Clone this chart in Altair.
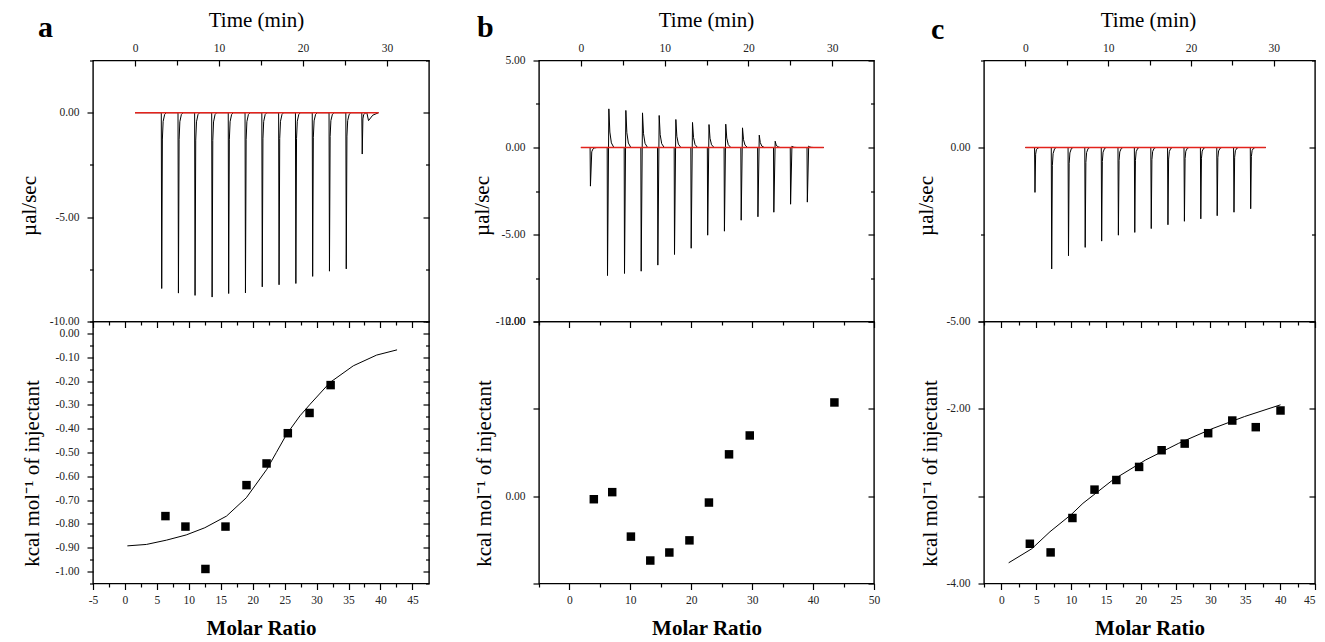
import altair as alt
import pandas as pd

FONT = "Liberation Serif"
RED = "#e3231c"

# ---------------- raw thermograms (top panels) ----------------
# panel a : injection times (min) and peak heights (ucal/sec)
inj_a_t = [3.13, 5.12, 7.10, 9.13, 11.10, 13.10, 15.10, 17.10, 19.10, 21.10, 23.10, 25.10, 27.00]
inj_a_peak = [-8.42, -8.64, -8.75, -8.83, -8.66, -8.63, -8.34, -8.24, -8.18, -7.84, -7.59, -7.48, -1.98]
tail_a_t = [27.8, 28.3]
tail_a_v = [-0.38, -0.12]

# panel b : negative and positive excursions of each injection
inj_b_t = [1.10, 3.14, 5.17, 7.16, 9.15, 11.14, 13.13, 15.10, 17.10, 19.10, 21.10, 23.00, 25.00, 27.00]
neg_b = [-2.22, -7.36, -7.24, -7.11, -6.76, -6.15, -5.79, -5.04, -4.81, -4.18, -3.98, -3.72, -3.26, -3.14]
pos_b = [-0.25, 2.22, 2.13, 1.99, 1.84, 1.61, 1.44, 1.32, 1.34, 1.13, 0.71, 0.36, 0.08, 0.08]

# panel c
inj_c_t = [1.11, 3.13, 5.16, 7.18, 9.17, 11.19, 13.17, 15.16, 17.18, 19.17, 21.15, 23.13, 25.16, 27.18]
inj_c_peak = [-1.29, -3.49, -3.11, -2.87, -2.69, -2.52, -2.44, -2.33, -2.22, -2.12, -2.05, -1.96, -1.86, -1.76]

run_end = [29.0, 29.0, 29.05]

# ---------------- integrated heats (bottom panels) ----------------
mr_a = [6.34, 9.47, 12.6, 15.74, 19.03, 22.17, 25.5, 28.9, 32.2]
dh_a = [-0.767, -0.811, -0.989, -0.811, -0.637, -0.546, -0.419, -0.334, -0.217]
fit_a_x = [0.38, 3.36, 6.5, 9.6, 12.5, 15.9, 19.0, 22.2, 23.7, 25.3, 27.4, 29.0, 32.1, 35.75, 39.4, 42.6]
fit_a_y = [-0.892, -0.886, -0.868, -0.846, -0.816, -0.767, -0.69, -0.571, -0.50, -0.424,
           -0.346, -0.297, -0.206, -0.136, -0.091, -0.069]

mr_b = [4.0, 7.02, 10.09, 13.27, 16.4, 19.7, 22.9, 26.2, 29.6, 43.5]
dh_b = [-0.035, 0.046, -0.463, -0.737, -0.645, -0.506, -0.073, 0.479, 0.695, 1.073]

mr_c = [4.08, 7.06, 10.19, 13.36, 16.49, 19.76, 22.99, 26.3, 29.67, 33.13, 36.5, 40.05]
dh_c = [-3.545, -3.644, -3.25, -2.925, -2.815, -2.665, -2.474, -2.398, -2.279, -2.134, -2.21, -2.019]
fit_c_x = [1.04, 4.36, 6.97, 10.05, 11.7, 15.97, 20.7, 25.45, 30.19, 34.9, 40.05]
fit_c_y = [-3.763, -3.602, -3.407, -3.208, -3.082, -2.815, -2.585, -2.394, -2.229, -2.088, -1.954]

# spike profile (time offset, fraction of the peak) used to draw each injection
SPIKE_DOWN = [(0.0, 0.0), (0.05, 1.0), (0.13, 0.15), (0.22, 0.05), (0.4, 0.01), (0.6, 0.0)]


def trace_down(times, peaks, end, tail_t=(), tail_v=()):
    rows = [(0.0, 0.0)]
    for t, p in zip(times, peaks):
        for dt, f in SPIKE_DOWN:
            rows.append((t + dt, p * f))
    for t, v in zip(tail_t, tail_v):
        rows.append((t, v))
    rows.append((end, 0.0))
    return pd.DataFrame({"t": [r[0] for r in rows], "v": [r[1] for r in rows], "i": range(len(rows))})


def trace_bi(times, negs, poss, end):
    rows = [(0.0, 0.0)]
    for t, n, p in zip(times, negs, poss):
        rows += [(t, 0.0), (t + 0.04, n), (t + 0.2, p), (t + 0.32, 0.4 * p),
                 (t + 0.5, 0.12 * p), (t + 0.8, 0.0)]
    rows.append((end, 0.0))
    return pd.DataFrame({"t": [r[0] for r in rows], "v": [r[1] for r in rows], "i": range(len(rows))})


def baseline(end):
    return pd.DataFrame({"t": [0.0, end], "v": [0.0, 0.0]})


MINUS = "\u2212"


def fmt_expr(test, f):
    return f"({test}) ? replace(format(datum.value, '{f}'), '{MINUS}', '-') : ''"


BASE_AX = dict(domain=False, grid=False, tickColor="black", tickWidth=1.2,
               labelFont=FONT, labelFontSize=11.5, labelColor="#222",
               titleFont=FONT, titleFontSize=21, titleColor="black",
               labelOverlap=False, labelBound=False)


def tsize(test, maj, mn, inward=False):
    s = -1 if inward else 1
    if test is None:
        return {"expr": str(s * maj)} if inward else maj
    return {"condition": {"test": test, "value": s * maj}, "value": s * mn}


def left_axis(values, label_test, size_test, title, tx, ty):
    return alt.Axis(orient="left", values=values, labelExpr=fmt_expr(label_test, ".2f"),
                    tickSize=tsize(size_test, 6, 3.5), labelPadding=8, labelFlush=False,
                    title=title, titleX=tx, titleY=ty, titleBaseline="alphabetic",
                    titleAngle=270, titleAlign="center", titleFontWeight="normal", **BASE_AX)


def right_axis(values, size_test):
    return alt.Axis(orient="right", values=values, labels=False, title=None, labelFlush=False,
                    tickSize=tsize(size_test, 6, 3.5, inward=True), **BASE_AX)


def time_axis(tx):
    return alt.Axis(orient="top", values=[0, 5, 10, 15, 20, 25, 30],
                    labelExpr=fmt_expr("datum.value % 10 === 0", "d"),
                    tickSize=tsize("datum.value % 10 === 0", 5.5, 4.5, inward=True),
                    labelPadding=15, labelBaseline="alphabetic", labelFlush=False,
                    title="Time (min)", titleX=tx, titleY=-34, titleBaseline="alphabetic",
                    titleFontWeight="normal", **BASE_AX)


def bottom_axis(values, label_test, size_test, flush):
    return alt.Axis(orient="bottom", values=values, labelExpr=fmt_expr(label_test, "d"),
                    tickSize=tsize(size_test, 6, 3.5), labelPadding=14, labelBaseline="alphabetic",
                    labelFlush=flush,
                    title="Molar Ratio", titleY=51, titleBaseline="alphabetic",
                    titleFontWeight="bold", **BASE_AX)


def top_mirror(values, size_test):
    return alt.Axis(orient="top", values=values, labels=False, title=None, labelFlush=False,
                    tickSize=tsize(size_test, 6, 3.5, inward=True), **BASE_AX)


H1, H2 = 261, 262
SPACING = 110
WIDTHS = [336, 335, 331]


def steps(a, b, s):
    n = int(round((b - a) / s))
    return [round(a + k * s, 4) for k in range(n + 1)]


def top_panel(trace, base, W, ydom, yvals, ytest, letter, ldx, ldy, ytx, ttx):
    xs = alt.Scale(domain=[-5, 35], nice=False, zero=False)
    ys = alt.Scale(domain=ydom, nice=False, zero=False)
    line = alt.Chart(trace).mark_line(color="black", strokeWidth=1, clip=True).encode(
        x=alt.X("t:Q", scale=xs, axis=time_axis(ttx)),
        y=alt.Y("v:Q", scale=ys, axis=left_axis(yvals, "datum.value % 5 === 0", ytest,
                                                "\u00b5al/sec", ytx, 145)),
        order="i:Q")
    red = alt.Chart(base).mark_line(color=RED, strokeWidth=1.6).encode(
        x=alt.X("t:Q", scale=xs, axis=None),
        y=alt.Y("v:Q", scale=ys, axis=right_axis(yvals, ytest)))
    lab = alt.Chart(pd.DataFrame({"lab": [letter]})).mark_text(
        font=FONT, fontSize=30, fontWeight="bold", align="left", baseline="alphabetic",
        color="black").encode(x=alt.value(ldx), y=alt.value(ldy), text="lab:N")
    return alt.layer(line, red, lab).resolve_axis(x="independent", y="independent").properties(
        width=W, height=H1)


def bottom_panel(df, fit, W, xdom, xvals, xlab_test, xsize_test, ydom, yvals, ylab_test, ysize_test,
                 ytx, flush=False):
    xs = alt.Scale(domain=xdom, nice=False, zero=False)
    ys = alt.Scale(domain=ydom, nice=False, zero=False)
    title = "kcal mol\u207b\u00b9 of injectant"
    pts = alt.Chart(df).mark_square(size=72, color="black", opacity=1).encode(
        x=alt.X("mr:Q", scale=xs, axis=bottom_axis(xvals, xlab_test, xsize_test, flush)),
        y=alt.Y("dh:Q", scale=ys, axis=left_axis(yvals, ylab_test, ysize_test, title, ytx, 151.5)))
    mirror = alt.Chart(df).mark_square(size=72, opacity=0).encode(
        x=alt.X("mr:Q", scale=xs, axis=top_mirror(xvals, xsize_test)),
        y=alt.Y("dh:Q", scale=ys, axis=right_axis(yvals, ysize_test)))
    layers = [mirror]
    if fit is not None:
        layers.append(alt.Chart(fit).mark_line(color="black", strokeWidth=1).encode(
            x=alt.X("mr:Q", scale=xs, axis=None),
            y=alt.Y("dh:Q", scale=ys, axis=None)))
    layers.append(pts)
    return alt.layer(*layers).resolve_axis(x="independent", y="independent").properties(
        width=W, height=H2)


trace_a = trace_down(inj_a_t, inj_a_peak, run_end[0], tail_a_t, tail_a_v)
trace_b = trace_bi(inj_b_t, neg_b, pos_b, run_end[1])
trace_c = trace_down(inj_c_t, inj_c_peak, run_end[2])

top_a = top_panel(trace_a, baseline(run_end[0]), WIDTHS[0], [-10, 2.5], steps(-10, 2.5, 2.5),
                  "datum.value % 5 === 0", "a", -55, -23.7, -58, 163)
top_b = top_panel(trace_b, baseline(run_end[1]), WIDTHS[1], [-10, 5], steps(-10, 5, 2.5),
                  "datum.value % 5 === 0", "b", -62, -23.7, -51, 167)
top_c = top_panel(trace_c, baseline(run_end[2]), WIDTHS[2], [-5, 2.5], steps(-5, 2.5, 2.5),
                  "datum.value % 5 === 0", "c", -53, -21.3, -52, 164)

df_a = pd.DataFrame({"mr": mr_a, "dh": dh_a})
fit_a = pd.DataFrame({"mr": fit_a_x, "dh": fit_a_y})
df_b = pd.DataFrame({"mr": mr_b, "dh": dh_b})
df_c = pd.DataFrame({"mr": mr_c, "dh": dh_c})
fit_c = pd.DataFrame({"mr": fit_c_x, "dh": fit_c_y})

bot_a = bottom_panel(df_a, fit_a, WIDTHS[0], [-5, 47.6], steps(-5, 45, 2.5),
                     "datum.value % 5 === 0", "datum.value % 5 === 0",
                     [-1.05, 0.05], steps(-1.05, 0.05, 0.05),
                     "abs(round(datum.value * 100)) % 10 === 0",
                     "abs(round(datum.value * 100)) % 10 === 0", -55)
bot_b = bottom_panel(df_b, None, WIDTHS[1], [-5, 50], steps(-5, 50, 5),
                     "datum.value % 10 === 0", "datum.value % 10 === 0",
                     [-1, 2], [-1, 0, 1, 2], "datum.value % 2 === 0", None, -49)
bot_c = bottom_panel(df_c, fit_c, WIDTHS[2], [-2.5, 45], steps(-2.5, 45, 2.5),
                     "datum.value % 5 === 0", "datum.value % 5 === 0",
                     [-4, -1], [-4, -3, -2, -1], "datum.value % 2 === 0", None, -48, flush=True)

chart = alt.concat(top_a, top_b, top_c, bot_a, bot_b, bot_c, columns=3,
                   spacing={"row": 0, "column": SPACING}, bounds="flush", align="each").properties(
    padding={"left": 9, "top": 0.5, "right": 0, "bottom": 0},
    background="white",
).configure_view(stroke="black", strokeWidth=1.4)

chart.save("out.html", embed_options={"renderer": "svg", "actions": False})
